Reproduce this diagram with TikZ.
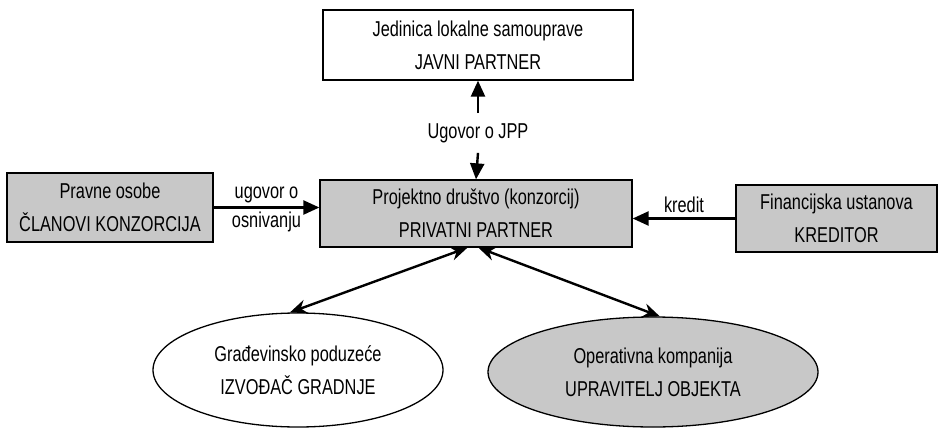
\documentclass[tikz,border=0pt]{standalone}
\usepackage{fontspec}
\usepackage{xcolor}
\usepackage{tikz}
\usetikzlibrary{shapes.geometric, arrows.meta, positioning, calc}

\newfontfamily\arialn[FakeStretch=0.76]{Liberation Sans}
\definecolor{sivo}{RGB}{200,200,200}

\tikzset{
  partner/.style={draw, line width=1.3pt, rectangle, inner sep=2pt, align=center,
    font=\arialn\fontsize{21.5}{33}\selectfont},
  firma/.style={draw, line width=1.3pt, ellipse, inner sep=0pt, align=center,
    font=\arialn\fontsize{21.5}{33}\selectfont},
  oznaka/.style={inner sep=3pt, align=center, font=\arialn\fontsize{21.5}{34}\selectfont},
  veza/.style={line width=2.4pt, -{Triangle[length=16pt, width=14pt]}},
  dvoveza/.style={line width=2.4pt, {Stealth[length=17pt, width=14pt]}-{Stealth[length=17pt, width=14pt]}}
}

\begin{document}
\begin{tikzpicture}[x=1pt, y=-1pt]
  \useasboundingbox (0,0) rectangle (939,428);
  \node[partner, fill=white, minimum width=310pt, minimum height=70pt] (javni) at (478,45)
    {Jedinica lokalne samouprave\\JAVNI PARTNER};
  \node[partner, fill=sivo, minimum width=312pt, minimum height=67pt] (privatni) at (476,213.5)
    {Projektno društvo (konzorcij)\\PRIVATNI PARTNER};
  \node[partner, fill=sivo, minimum width=206pt, minimum height=69pt] (clanovi) at (110,207.5)
    {Pravne osobe\\ČLANOVI KONZORCIJA};
  \node[partner, fill=sivo, minimum width=201pt, minimum height=67pt] (kreditor) at (836.5,218.5)
    {Financijska ustanova\\KREDITOR};
  \node[firma, fill=white, minimum width=290pt, minimum height=114pt] (izvodac) at (298,370)
    {Građevinsko poduzeće\\IZVOĐAČ GRADNJE};
  \node[firma, fill=sivo, minimum width=330pt, minimum height=110pt] (upravitelj) at (653,372)
    {Operativna kompanija\\UPRAVITELJ OBJEKTA};

  \node[oznaka, inner sep=10pt] (jpp) at (478,133) {Ugovor o JPP};
  \draw[veza] (jpp.north) -- (javni.south);
  \draw[veza] (jpp.south) -- (privatni.north);

  \draw[veza] (clanovi.east) -- (clanovi.east -| privatni.west)
    node[oznaka, midway, above] {ugovor o}
    node[oznaka, midway, below] {osnivanju};
  \draw[veza] (kreditor.west) -- (kreditor.west -| privatni.east)
    node[oznaka, midway, above, yshift=2pt] {kredit};

  \draw[dvoveza] (privatni.256) -- (izvodac.98);
  \draw[dvoveza] (privatni.274) -- (upravitelj.83);
\end{tikzpicture}
\end{document}
